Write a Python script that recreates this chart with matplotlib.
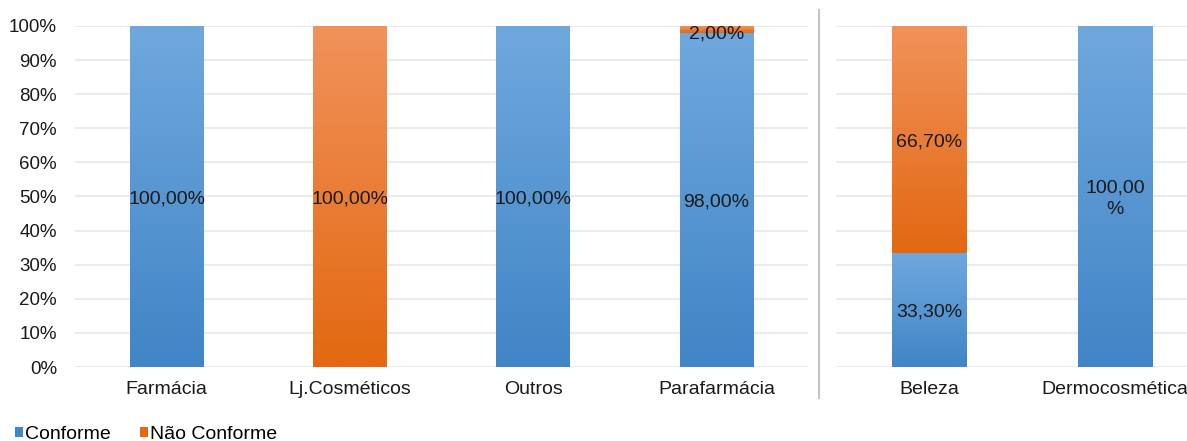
import numpy as np
import matplotlib
matplotlib.use("Agg")
import matplotlib.pyplot as plt
from matplotlib.colors import LinearSegmentedColormap
from matplotlib.patches import Patch
from matplotlib.ticker import PercentFormatter

plt.rcParams['font.family'] = ['Liberation Sans', 'DejaVu Sans']

# Left group: store types
cats_left = ["Farmácia", "Lj.Cosméticos", "Outros", "Parafarmácia"]
conf_left = [100.0, 0.0, 100.0, 98.0]
nconf_left = [0.0, 100.0, 0.0, 2.0]

# Right group: product types
cats_right = ["Beleza", "Dermocosmética"]
conf_right = [33.3, 100.0]
nconf_right = [66.7, 0.0]

labels_series = ["Conforme", "Não Conforme"]
y_ticks = [0, 10, 20, 30, 40, 50, 60, 70, 80, 90, 100]

blue_top, blue_bot = "#70a8de", "#4085c6"
orange_top, orange_bot = "#f1925b", "#e36811"
grid_col = "#e6e6ee"
text_col = "#1a1a1a"

cmap_blue = LinearSegmentedColormap.from_list("b", [blue_bot, blue_top])
cmap_orange = LinearSegmentedColormap.from_list("o", [orange_bot, orange_top])

fig = plt.figure(figsize=(11.87, 4.41), dpi=100)
ax1 = fig.add_axes([75/1187, 74/441, 733/1187, 341/441])
ax2 = fig.add_axes([836/1187, 74/441, 351/1187, 341/441])


def fmt(v):
    return f"{v:.2f}".replace(".", ",") + "%"


def gradient_bars(ax, bars, cmap):
    # vertical gradient over each bar segment, light at top, dark at bottom
    grad = np.linspace(0, 1, 256).reshape(-1, 1)
    for b in bars:
        h = b.get_height()
        if h <= 0:
            continue
        x0, y0, w = b.get_x(), b.get_y(), b.get_width()
        im = ax.imshow(grad, cmap=cmap, origin="lower", aspect="auto",
                       extent=[x0, x0 + w, y0, y0 + h], zorder=2,
                       interpolation="bilinear")
        im.set_clip_path(b)
        b.set_facecolor("none")


def draw(ax, cats, conf, nconf, xmax, wrap_full=False):
    x = np.arange(len(cats))
    b1 = ax.bar(x, conf, width=0.4, color=blue_top, zorder=2, linewidth=0)
    b2 = ax.bar(x, nconf, width=0.4, bottom=conf, color=orange_top, zorder=2, linewidth=0)
    gradient_bars(ax, b1, cmap_blue)
    gradient_bars(ax, b2, cmap_orange)
    for i in range(len(cats)):
        for val, base in ((conf[i], 0), (nconf[i], conf[i])):
            if val <= 0:
                continue
            txt = fmt(val)
            if wrap_full and val == 100:
                txt = "100,00\n%"
            yc = base + val / 2 - 0.6
            if val < 5:
                yc = base + val / 2 - 1.2
            ax.text(i, yc, txt, ha="center", va="center", fontsize=14,
                    color=text_col, zorder=4, linespacing=1.35)
    ax.set_xlim(-0.5, xmax)
    ax.set_ylim(0, 100)
    ax.set_xticks(x)
    ax.set_xticklabels(cats, fontsize=14, color=text_col)
    ax.set_yticks(y_ticks)
    ax.grid(axis="y", color=grid_col, linewidth=1.2, zorder=0)
    ax.set_axisbelow(True)
    for s in ax.spines.values():
        s.set_visible(False)
    ax.tick_params(axis="both", length=0)
    ax.tick_params(axis="x", pad=10)


draw(ax1, cats_left, conf_left, nconf_left, len(cats_left) - 0.5)
draw(ax2, cats_right, conf_right, nconf_right, 1.387, wrap_full=True)

ax1.yaxis.set_major_formatter(PercentFormatter(decimals=0))
ax1.tick_params(axis="y", pad=13, labelsize=13.5, labelcolor=text_col)
ax2.set_yticklabels([])

# separator between the two groups
fig.add_artist(plt.Line2D([819/1187, 819/1187], [1 - 10/441, 1 - 398/441],
                          transform=fig.transFigure, color="#c4c4c4", linewidth=1.5))

handles = [Patch(facecolor=blue_bot, edgecolor="none"),
           Patch(facecolor=orange_bot, edgecolor="none")]
fig.legend(handles, labels_series, loc="center left", bbox_to_anchor=(0.0126, 0.014),
           ncol=2, frameon=False, fontsize=14, handlelength=0.4, handleheight=0.4,
           handletextpad=0.12, columnspacing=1.5, borderpad=0, borderaxespad=0)

fig.savefig("out.png", dpi=100)
